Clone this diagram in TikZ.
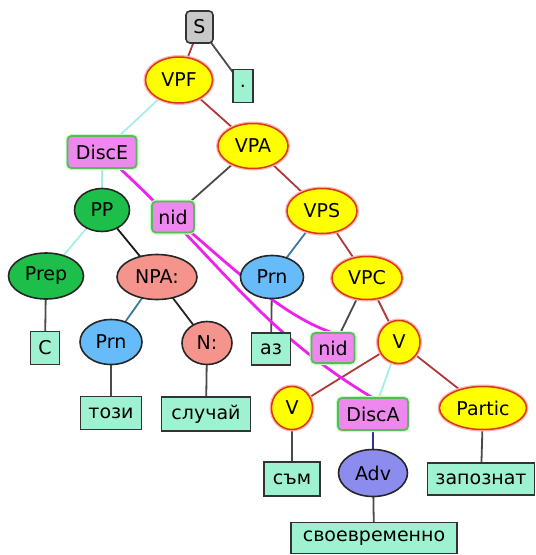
\documentclass[tikz,border=0pt]{standalone}
\usepackage{fontspec}
\setmainfont{DejaVu Sans}
\usetikzlibrary{shapes.geometric,backgrounds}
\definecolor{yelfill}{HTML}{FFFF00}
\definecolor{yelborder}{HTML}{D83A10}
\definecolor{pinkfill}{HTML}{EE88EE}
\definecolor{pinkborder}{HTML}{5DB85D}
\definecolor{greenfill}{HTML}{1EBE4A}
\definecolor{salmon}{HTML}{F4948C}
\definecolor{prnblue}{HTML}{66BBF8}
\definecolor{advblue}{HTML}{8C8CEE}
\definecolor{leaffill}{HTML}{9EF2D2}
\definecolor{grayfill}{HTML}{C8C8C8}
\definecolor{ebrown}{HTML}{B03838}
\definecolor{edark}{HTML}{4A4A4A}
\definecolor{ecyan}{HTML}{A4EEEA}
\definecolor{esteel}{HTML}{3A7AA0}
\definecolor{eindigo}{HTML}{303098}
\definecolor{magline}{HTML}{EE22EE}
\begin{document}
\begin{tikzpicture}[x=1pt,y=-1pt,
  every node/.style={font=\fontsize{19}{21}\selectfont, inner sep=0pt, outer sep=0pt},
  yel/.style={ellipse, fill=yelfill, draw=yelborder, line width=1.5pt,
    preaction={draw=red!30, line width=4pt}},
  dk/.style={ellipse, draw=black!85, line width=1.6pt},
  pinkbox/.style={rectangle, rounded corners=4pt, fill=pinkfill, draw=pinkborder, line width=1.8pt,
    preaction={draw=green!25, line width=4pt}},
  leaf/.style={rectangle, fill=leaffill, draw=black!80, line width=1.8pt},
  edge/.style={line width=1.8pt},
  mag/.style={draw=magline, line width=2.8pt}
]
\useasboundingbox (0,0) rectangle (536,555);
% nodes
\node[rectangle, rounded corners=4pt, fill=grayfill, draw=black!80, line width=1.6pt,
  minimum width=27pt, minimum height=32pt] (S) at (199.5,27) {S};
\node[leaf, minimum width=20pt, minimum height=33pt] (dot) at (243,86) {.};
\node[yel, minimum width=67pt, minimum height=46pt] (VPF) at (179,80) {VPF};
\node[yel, minimum width=70pt, minimum height=45pt] (VPA) at (253,146) {VPA};
\node[pinkbox, minimum width=69pt, minimum height=32pt] (DiscE) at (102,152) {DiscE};
\node[dk, fill=greenfill, minimum width=55pt, minimum height=43pt] (PP) at (102,210) {PP};
\node[pinkbox, minimum width=42pt, minimum height=31pt] (nidA) at (173,217) {nid};
\node[yel, minimum width=70pt, minimum height=45pt] (VPS) at (322,211) {VPS};
\node[dk, fill=greenfill, minimum width=75pt, minimum height=46pt] (Prep) at (46,276) {Prep};
\node[dk, fill=salmon, minimum width=80pt, minimum height=45pt] (NPA) at (157,277) {NPA:};
\node[leaf, minimum width=29pt, minimum height=33pt] (C) at (45,348) {С};
\node[dk, fill=prnblue, minimum width=62pt, minimum height=45pt] (PrnA) at (111,342) {Prn};
\node[dk, fill=salmon, minimum width=50pt, minimum height=43pt] (N) at (207,343) {N:};
\node[leaf, minimum width=61pt, minimum height=33pt] (tozi) at (111,413) {този};
\node[leaf, minimum width=89pt, minimum height=34pt] (sluchai) at (206,414) {случай};
\node[dk, fill=prnblue, minimum width=63pt, minimum height=43pt] (PrnB) at (272,277) {Prn};
\node[leaf, minimum width=39pt, minimum height=32pt] (az) at (271,349) {аз};
\node[pinkbox, minimum width=43pt, minimum height=30pt] (nidB) at (333,348) {nid};
\node[yel, minimum width=70pt, minimum height=43pt] (VPC) at (367,278) {VPC};
\node[yel, minimum width=42pt, minimum height=43pt] (VA) at (399,342) {V};
\node[yel, minimum width=41pt, minimum height=43pt] (VB) at (292,408) {V};
\node[pinkbox, minimum width=70pt, minimum height=32pt] (DiscA) at (373,414) {DiscA};
\node[yel, minimum width=87pt, minimum height=43pt] (Partic) at (483,408) {Partic};
\node[leaf, minimum width=56pt, minimum height=34pt] (sam) at (292,479) {съм};
\node[dk, fill=advblue, minimum width=69pt, minimum height=47pt] (Adv) at (373,473) {Adv};
\node[leaf, minimum width=107pt, minimum height=32pt] (zapoznat) at (481,479) {запознат};
\node[leaf, minimum width=166pt, minimum height=31pt] (svoevr) at (374,538) {своевременно};
% edges
\begin{scope}[on background layer]
\draw[edge, ebrown] (S.center) -- (VPF.center);
\draw[edge, edark] (S.center) -- (dot.center);
\draw[edge, ecyan] (VPF.center) -- (DiscE.center);
\draw[edge, ebrown] (VPF.center) -- (VPA.center);
\draw[edge, edark] (VPA.center) -- (nidA.center);
\draw[edge, ebrown] (VPA.center) -- (VPS.center);
\draw[edge, ecyan] (DiscE.center) -- (PP.center);
\draw[edge, ecyan] (PP.center) -- (Prep.center);
\draw[edge, black!90] (PP.center) -- (NPA.center);
\draw[edge, esteel] (NPA.center) -- (PrnA.center);
\draw[edge, black!85] (NPA.center) -- (N.center);
\draw[edge, edark] (Prep.center) -- (C.center);
\draw[edge, edark] (PrnA.center) -- (tozi.center);
\draw[edge, edark] (N.center) -- (sluchai.center);
\draw[edge, esteel] (VPS.center) -- (PrnB.center);
\draw[edge, ebrown] (VPS.center) -- (VPC.center);
\draw[edge, edark] (PrnB.center) -- (az.center);
\draw[edge, edark] (VPC.center) -- (nidB.center);
\draw[edge, ebrown] (VPC.center) -- (VA.center);
\draw[edge, ebrown] (VA.center) -- (VB.center);
\draw[edge, ecyan] (VA.center) -- (DiscA.center);
\draw[edge, ebrown] (VA.center) -- (Partic.center);
\draw[edge, edark] (VB.center) -- (sam.center);
\draw[edge, eindigo] (DiscA.center) -- (Adv.center);
\draw[edge, edark] (Adv.center) -- (svoevr.center);
\draw[edge, edark] (Partic.center) -- (zapoznat.center);
\draw[mag] (DiscE.center) .. controls (222,260) and (253,326) .. (DiscA.north);
\draw[mag] (nidA.center) .. controls (230,265) and (280,315) .. (nidB.north);
\end{scope}
\end{tikzpicture}
\end{document}
